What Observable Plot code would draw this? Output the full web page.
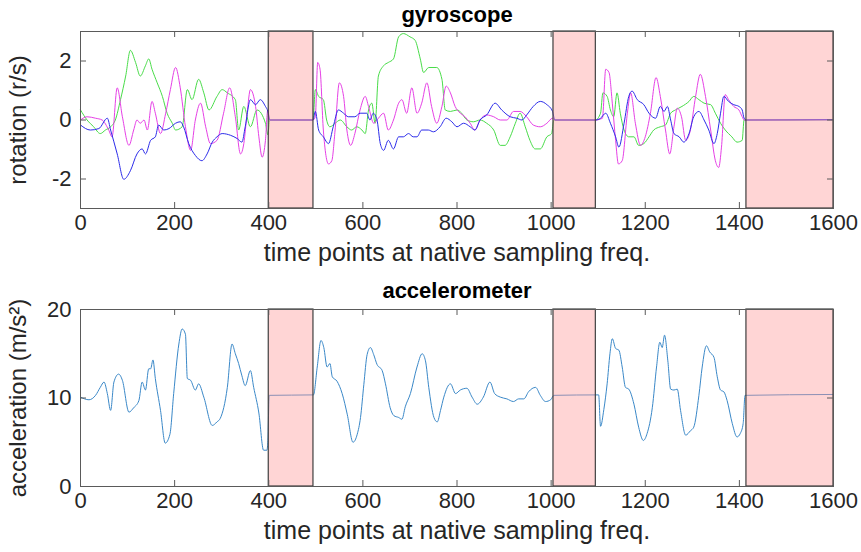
<!DOCTYPE html>
<html><head><meta charset="utf-8">
<script src="https://cdn.jsdelivr.net/npm/d3@7"></script>
<script src="https://cdn.jsdelivr.net/npm/@observablehq/plot@0.6"></script>
<style>
body{margin:0;background:#fff;}
#wrap{position:relative;width:861px;height:552px;overflow:hidden;background:#fff;}
#wrap svg{display:block;}
</style></head><body><div id="wrap"></div>
<script>
// ---------- data ----------
const xTicks = [0,200,400,600,800,1000,1200,1400,1600];
const gyroTicks = [-2,0,2];
const accTicks = [0,10,20];
const gapStart = [400,1005,1415];
const gapEnd = [495,1095,1600];

const blueT = [0,21,39,57,64,78,92,106,120,131,138,149,159,166,177,188,202,212,219,230,244,258,269,280,290,301,319,333,343,350,361,372,382,393,398,402,494,
 499,506,516,527,537,548,559,569,583,594,608,615,622,630,637,644,654,665,676,686,697,707,715,725,739,750,764,777,789,800,814,828,838,849,863,881,895,913,927,938,948,962,977,991,1003,1008,1094,
 1105,1116,1126,1137,1144,1155,1165,1172,1183,1197,1208,1222,1232,1240,1247,1254,1261,1272,1282,1293,1303,1314,1325,1335,1346,1353,1360,1367,1377,1388,1399,1406,1410,1415,1600];
const blueV = [-0.17,-0.34,-0.29,0.06,-0.34,-1.15,-2.01,-1.72,-1.15,-0.98,-1.15,-0.69,-0.57,-0.17,-0.34,-0.29,-0.11,-0.06,-0.23,-0.80,-1.20,-1.38,-1.15,-0.75,-0.57,-0.46,-0.52,-0.63,-0.75,-0.23,0.69,0.52,0.69,0.46,0.30,0,0,
 0.29,-0.34,-0.57,-0.80,-0.23,0.34,0.23,0.11,0.11,0.23,0.23,0.0,0.23,0.0,-0.80,-1.03,-0.69,-0.98,-0.57,-0.57,-0.46,-0.57,-0.57,-0.34,-0.34,-0.40,-0.23,0.06,-0.06,-0.23,-0.11,-0.23,-0.34,0.0,0.17,0.57,0.34,0.11,0.06,0.0,0.17,0.46,0.63,0.52,0.29,0,0,
 0.06,0.23,-0.11,-0.57,-0.92,-0.11,0.80,0.98,0.69,0.52,0.23,0.06,0.46,0.29,0.46,0.0,-0.46,-0.57,-0.75,-0.46,0.11,0.29,0.0,-0.34,-0.80,-0.46,0.23,0.80,0.63,0.52,0.46,0.34,0.06,0,0.01];

const magentaT = [0,14,32,46,60,67,78,89,103,113,120,127,135,142,152,159,170,181,191,202,212,223,234,244,255,266,276,290,304,317,329,340,347,354,361,372,379,386,393,398,402,494,
 499,504,509,516,527,534,541,550,559,566,574,583,594,605,612,623,633,644,654,665,676,683,693,704,715,725,736,746,757,768,777,786,796,807,817,828,838,849,863,878,892,906,920,934,948,962,977,991,1003,1008,1094,
 1109,1116,1123,1130,1137,1143,1151,1162,1169,1179,1190,1200,1211,1223,1232,1243,1252,1261,1268,1277,1286,1296,1307,1317,1328,1339,1349,1356,1362,1370,1377,1388,1399,1406,1410,1415,1600];
const magentaV = [0.0,0.11,0.06,0.0,-0.34,-0.57,1.09,0.11,-0.86,-0.34,0.0,-0.11,0.0,-0.34,0.63,0.23,-0.46,0.23,1.03,1.78,1.09,-0.23,-1.03,0.0,0.57,-0.23,-0.80,-0.69,0.23,1.09,0.11,-1.15,-0.80,0.23,1.03,0.46,-0.57,-1.26,-0.69,0.34,0,0,
 0.11,1.95,1.72,-0.34,-1.49,-1.38,-0.34,1.26,0.80,-0.34,-0.86,-0.46,0.34,0.80,0.46,-0.11,0.06,0.23,-0.34,0.0,0.57,0.69,0.23,1.09,0.23,0.57,1.26,0.46,-0.11,0.46,1.15,0.92,0.46,0.23,0.11,-0.11,-0.34,0.0,0.17,0.11,0.0,0.0,0.29,0.29,0.11,-0.17,-0.23,-0.11,0.06,0,0,
 0.06,1.72,1.61,0.57,-0.69,-1.49,-1.38,0.23,0.92,-0.11,-0.86,-0.57,0.23,1.44,0.80,-0.34,-1.15,-0.23,0.40,0.11,-0.69,-0.34,0.80,1.55,0.80,-0.34,-1.38,-1.61,-0.92,0.86,0.69,0.46,0.34,0.11,0.0,0,0.01];

const greenT = [0,14,28,42,53,64,74,85,96,106,117,127,138,145,152,163,174,184,195,202,216,227,237,251,262,273,290,301,312,329,336,347,361,375,393,398,402,494,
 499,506,516,523,530,541,552,566,576,587,598,605,612,619,626,633,644,654,665,676,686,700,711,722,729,740,757,768,775,786,800,810,821,835,849,863,878,892,902,913,924,934,945,955,966,977,991,1001,1006,1094,
 1105,1110,1119,1126,1133,1140,1147,1155,1165,1176,1186,1197,1208,1218,1232,1243,1254,1264,1278,1293,1303,1314,1325,1339,1349,1360,1370,1384,1395,1406,1410,1415,1600];
const greenV = [0.34,0.0,-0.23,-0.46,-0.34,-0.23,0.0,0.69,1.49,2.36,1.95,1.49,1.84,2.07,1.72,1.26,0.80,0.23,-0.11,-0.34,-0.23,1.03,0.69,1.38,0.92,0.34,0.80,1.03,0.92,0.69,-0.34,0.46,-0.23,0.34,-0.11,-0.50,0,0,
 1.03,0.80,0.69,0.0,-0.23,-0.11,0.0,-0.23,-0.34,-0.23,-0.34,-0.46,0.34,0.57,-0.11,1.49,1.84,1.95,2.07,2.82,2.93,2.82,2.70,2.07,1.61,1.78,1.78,1.38,0.34,0.29,0.34,0.23,0.0,-0.06,0.0,-0.11,-0.34,-0.86,-0.86,-0.57,-0.11,0.23,-0.23,-0.69,-0.98,-0.98,-0.57,-0.46,0,0,
 0.23,0.92,0.80,0.34,0.11,0.92,0.23,-0.34,-0.57,-0.57,-0.86,-0.80,-0.57,-0.34,-0.23,-0.17,0.23,0.34,0.46,0.63,0.80,0.69,0.57,0.52,0.23,-0.11,-0.34,-0.57,-0.75,-0.69,0.0,0,0.01];

const accT = [0,18,32,42,50,57,64,71,81,89,103,113,124,131,138,145,149,154,159,170,180,190,198,209,216,223,227,234,244,251,262,280,290,297,312,322,329,336,343,350,361,368,379,389,396,398,401,495,
 503,511,517,524,530,535,545,556,567,579,588,595,602,609,616,623,630,641,648,658,666,676,683,690,701,715,726,733,740,751,758,765,772,786,797,807,821,832,843,856,870,880,892,906,920,931,942,952,967,977,988,999,1006,1101,
 1105,1112,1119,1125,1130,1137,1144,1151,1158,1165,1176,1186,1196,1204,1215,1224,1231,1236,1241,1248,1254,1261,1268,1275,1286,1296,1303,1314,1321,1330,1337,1346,1353,1360,1367,1374,1385,1395,1402,1408,1412,1600];
const accV = [10.1,9.8,10.3,11.2,11.8,10.5,8.6,11.8,12.7,12.0,8.4,8.9,9.7,11.8,10.9,13.3,13.3,14.3,12.2,8.6,4.9,5.9,10.5,16.1,17.8,17.2,12.2,12.0,10.9,11.6,10.1,6.9,7.3,7.7,11.2,16.1,15.0,13.9,12.5,11.4,13.1,11.2,8.3,4.1,4.1,5.0,10.3,10.35,
 13.5,16.5,15.7,13.5,13.9,12.4,11.9,10.5,8.1,5.0,5.9,7.8,11.5,14.9,15.7,14.9,13.8,13.1,11.6,8.9,8.0,7.8,7.6,9.0,10.5,13.5,15.0,14.2,11.2,7.8,7.3,8.6,10.1,11.6,10.5,10.9,11.1,10.1,9.3,10.1,11.8,10.5,10.1,9.9,9.6,9.9,9.9,10.7,11.2,10.3,9.6,9.8,10.3,10.35,
 6.8,8.7,11.6,15.0,16.7,15.6,15.4,13.5,11.2,11.0,9.3,6.7,5.2,6.0,8.9,13.5,16.3,15.7,17.1,14.2,11.0,10.9,11.0,8.6,5.8,6.3,6.7,10.3,13.5,15.9,15.2,14.6,12.4,10.9,10.7,9.7,7.1,5.6,6.0,7.1,10.3,10.4];

// ---------- build ----------
const rows = (T, V) => T.map((t, i) => ({t, v: V[i]}));
const gaps = gapStart.map((a, i) => ({x1: a, x2: gapEnd[i]}));
const FONT = "'Liberation Sans', Arial, Helvetica, sans-serif";
const W = 861, H = 276, ML = 80, MR = 28;

function panel({series, yDomain, yTicks, yLabel, title, marginTop, marginBottom}) {
  const ph = H - marginTop - marginBottom;
  const pw = W - ML - MR;
  return Plot.plot({
    width: W, height: H,
    marginLeft: ML, marginRight: MR, marginTop, marginBottom,
    style: {fontFamily: FONT, fontSize: "22px", color: "#262626", background: "white", overflow: "visible"},
    x: {domain: [0, 1600]},
    y: {domain: yDomain},
    marks: [
      ...series.map(s => Plot.line(s.data, {x: "t", y: "v", stroke: s.color, strokeWidth: 1, curve: "monotone-x"})),
      Plot.rect(gaps, {x1: "x1", x2: "x2", y1: yDomain[0], y2: yDomain[1], fill: "#ff9a9a", fillOpacity: 0.42, stroke: "#3f3f3f", strokeWidth: 1.2}),
      Plot.frame({stroke: "#5a5a5a", strokeWidth: 1}),
      Plot.tickX(xTicks, {x: d => d, insetTop: ph - 6, stroke: "#5a5a5a"}),
      Plot.tickX(xTicks, {x: d => d, insetBottom: ph - 6, stroke: "#5a5a5a"}),
      Plot.tickY(yTicks, {y: d => d, insetRight: pw - 6, stroke: "#5a5a5a"}),
      Plot.tickY(yTicks, {y: d => d, insetLeft: pw - 6, stroke: "#5a5a5a"}),
      Plot.axisX(xTicks, {anchor: "bottom", tickSize: 0, tickPadding: 6, fontSize: 22, tickFormat: d => String(d), label: null}),
      Plot.axisX(xTicks, {anchor: "bottom", ticks: [], tickSize: 0, text: null, fontSize: 25,
        label: "time points at native sampling freq.", labelAnchor: "center", labelOffset: 52, labelArrow: "none"}),
      Plot.axisY(yTicks, {anchor: "left", tickSize: 0, tickPadding: 9, fontSize: 22, tickFormat: d => String(d), label: null}),
      Plot.axisY(yTicks, {anchor: "left", ticks: [], tickSize: 0, text: null, fontSize: 24,
        label: yLabel, labelAnchor: "center", labelOffset: 72, labelArrow: "none"}),
      Plot.text([title], {text: d => d, frameAnchor: "top", dy: -(marginTop - 14), fontWeight: "bold", fontSize: 22, lineAnchor: "middle", fill: "#000"})
    ]
  });
}

const gyroChart = panel({
  series: [
    {data: rows(greenT, greenV), color: "#48dc48"},
    {data: rows(magentaT, magentaV), color: "#e640e6"},
    {data: rows(blueT, blueV), color: "#2b2bea"}
  ],
  yDomain: [-3, 3], yTicks: gyroTicks, yLabel: "rotation (r/s)", title: "gyroscope",
  marginTop: 31, marginBottom: 68
});
const accChart = panel({
  series: [{data: rows(accT, accV), color: "#3a88c8"}],
  yDomain: [0, 20], yTicks: accTicks, yLabel: "acceleration (m/s²)", title: "accelerometer",
  marginTop: 33, marginBottom: 66
});
const wrap = document.getElementById("wrap");
wrap.appendChild(gyroChart);
wrap.appendChild(accChart);
</script>
</body></html>
